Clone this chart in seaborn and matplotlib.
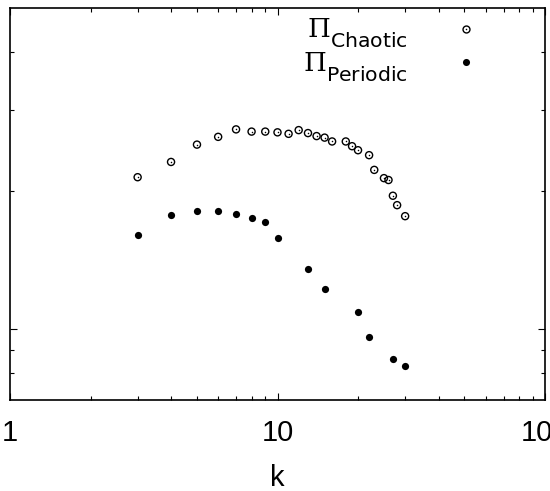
import matplotlib
matplotlib.use('Agg')
import matplotlib.pyplot as plt
import seaborn as sns
import pandas as pd
from matplotlib.lines import Line2D
from matplotlib.legend_handler import HandlerTuple
from matplotlib.ticker import FixedLocator, NullFormatter, FixedFormatter, LogLocator

try:
    import matplotlib._mathtext as _mt
    _mt.SHRINK_FACTOR = 0.78
    for _cls in (_mt.FontConstantsBase, getattr(_mt, 'DejaVuSerifFontConstants', None),
                 getattr(_mt, 'DejaVuSansFontConstants', None)):
        if _cls is not None:
            _cls.sub1 = 0.75
except Exception:
    pass

# ---- data ----
chaotic_k = [3, 4, 5, 6, 7, 8, 9, 10, 11, 12, 13, 14, 15, 16, 18, 19, 20, 22, 23, 25, 26, 27, 28, 30]
chaotic_pi = [2.14, 2.31, 2.52, 2.62, 2.72, 2.69, 2.69, 2.68, 2.66, 2.71, 2.67, 2.63, 2.61, 2.56,
              2.56, 2.50, 2.45, 2.39, 2.22, 2.13, 2.11, 1.95, 1.86, 1.76]
periodic_k = [3, 4, 5, 6, 7, 8, 9, 10, 13, 15, 20, 22, 27, 30]
periodic_pi = [1.60, 1.77, 1.81, 1.81, 1.78, 1.745, 1.71, 1.58, 1.35, 1.22, 1.09, 0.959, 0.860, 0.832]
x_ticks = [1, 10, 100]
x_tick_labels = ['1', '10', '100']
y_major_ticks = [1]
y_minor_ticks = [0.8, 0.9, 2, 3, 4]
label_chaotic = r'$\Pi_{\mathsf{Chaotic}}$'
label_periodic = r'$\Pi_{\mathsf{Periodic}}$'
x_label = 'k'

df_c = pd.DataFrame({'k': chaotic_k, 'pi': chaotic_pi})
df_p = pd.DataFrame({'k': periodic_k, 'pi': periodic_pi})

sns.set_style('ticks')
plt.rcParams['font.family'] = ['Liberation Sans', 'DejaVu Sans']
plt.rcParams['text.color'] = 'black'
plt.rcParams['axes.labelcolor'] = 'black'
plt.rcParams['xtick.color'] = 'black'
plt.rcParams['ytick.color'] = 'black'
plt.rcParams['mathtext.fontset'] = 'custom'
plt.rcParams['mathtext.rm'] = 'DejaVu Serif'
plt.rcParams['mathtext.sf'] = 'DejaVu Sans'
plt.rcParams['mathtext.it'] = 'DejaVu Serif:italic'

fig = plt.figure(figsize=(5.5, 4.91), dpi=100)
ax = fig.add_axes([10 / 550, 1 - 400 / 491, 535 / 550, 392 / 491])

sns.scatterplot(data=df_c, x='k', y='pi', marker='o', s=26, facecolors='none',
                edgecolor='black', linewidth=1.0, ax=ax, zorder=3)
sns.scatterplot(data=df_c, x='k', y='pi', marker='o', s=1.2, color='black',
                edgecolor='black', linewidth=0, ax=ax, zorder=4)
sns.scatterplot(data=df_p, x='k', y='pi', marker='o', s=27, color='black',
                edgecolor='black', linewidth=0, ax=ax, zorder=3)

ax.set_xscale('log')
ax.set_yscale('log')
ax.set_xlim(1, 100)
ax.set_ylim(0.7, 5)

ax.xaxis.set_major_locator(FixedLocator(x_ticks))
ax.xaxis.set_major_formatter(FixedFormatter(x_tick_labels))
ax.xaxis.set_minor_locator(LogLocator(base=10, subs=range(2, 10)))
ax.xaxis.set_minor_formatter(NullFormatter())
ax.yaxis.set_major_locator(FixedLocator(y_major_ticks))
ax.yaxis.set_major_formatter(NullFormatter())
ax.yaxis.set_minor_locator(FixedLocator(y_minor_ticks))
ax.yaxis.set_minor_formatter(NullFormatter())

ax.tick_params(which='both', direction='in', top=True, right=True, width=0.8, color='black')
ax.tick_params(which='major', length=5)
ax.tick_params(which='minor', length=2.8)
ax.tick_params(axis='x', which='major', labelsize=21, pad=14, labelcolor='black')
for s in ax.spines.values():
    s.set_linewidth(1.2)
    s.set_color('black')

ax.set_xlabel(x_label, fontsize=21, labelpad=12, color='black')
ax.set_ylabel('')

h_c = (Line2D([], [], marker='o', ls='none', mfc='none', mec='black', mew=1.0, ms=5.0),
       Line2D([], [], marker='o', ls='none', mfc='black', mec='black', mew=0, ms=1.1))
h_p = Line2D([], [], marker='o', ls='none', mfc='black', mec='black', mew=0, ms=5.1)
ax.legend([h_c, h_p], [label_chaotic, label_periodic],
          handler_map={tuple: HandlerTuple(ndivide=1)},
          loc='upper right', bbox_to_anchor=(486 / 550, 1 - 17 / 491),
          bbox_transform=fig.transFigure, frameon=False, markerfirst=False,
          fontsize=18.8, handlelength=1.5, handletextpad=1.5, labelspacing=0.0,
          borderpad=0, borderaxespad=0)

fig.savefig('out.png', dpi=100)
